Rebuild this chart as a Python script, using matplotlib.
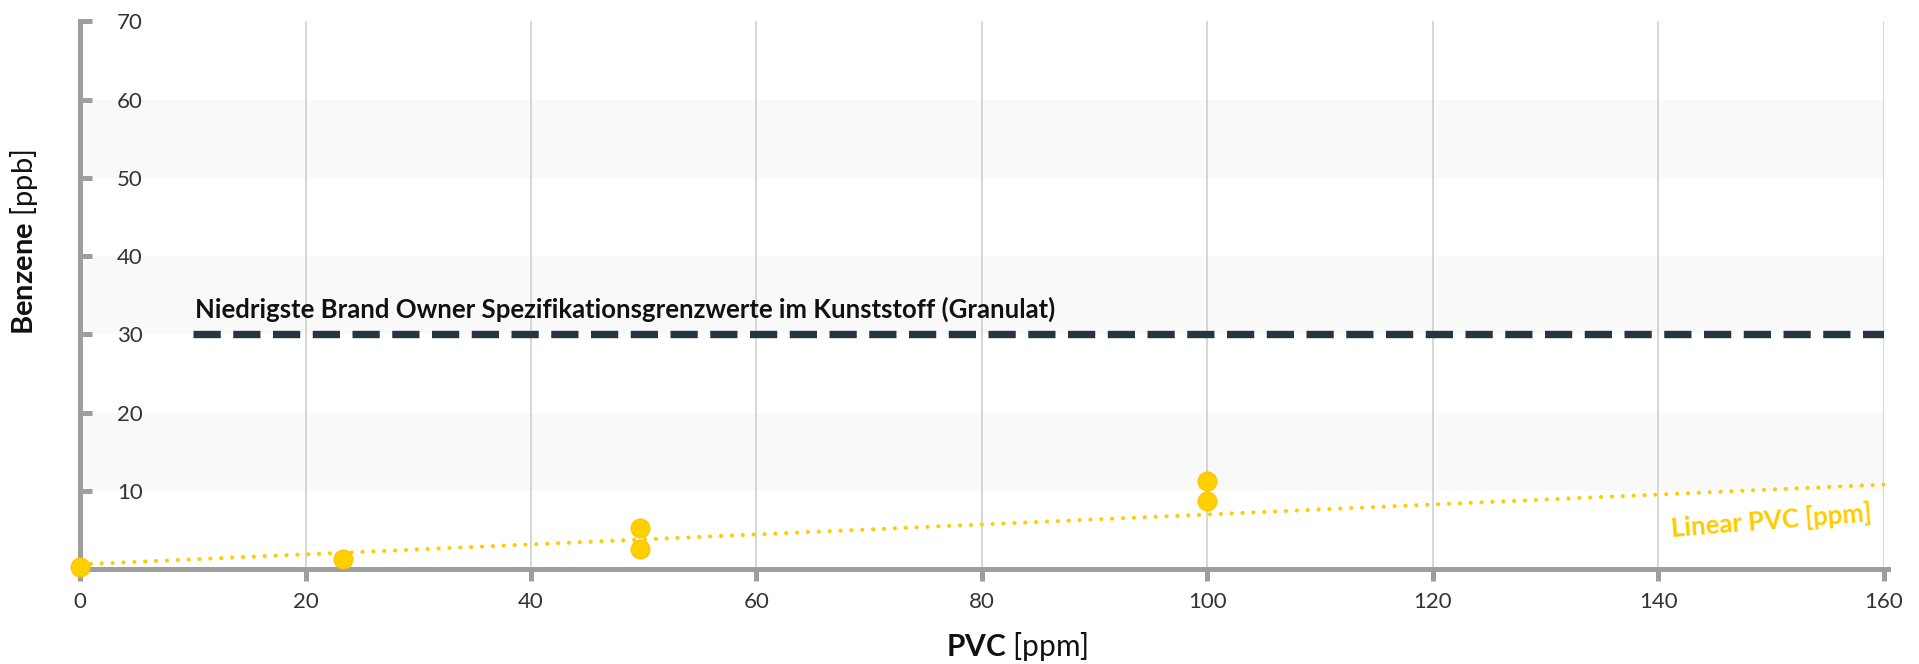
import matplotlib
matplotlib.use('Agg')
import matplotlib.pyplot as plt

plt.rcParams['font.family'] = ['Lato', 'DejaVu Sans']
plt.rcParams['mathtext.fontset'] = 'custom'
plt.rcParams['mathtext.rm'] = 'Lato'
plt.rcParams['mathtext.bf'] = 'Lato:bold'

# data
pvc_ppm = [0, 23.3, 49.7, 49.7, 100, 100]
benzene_ppb = [0.3, 1.3, 5.3, 2.5, 11.2, 8.7]

trend_x = [0, 160]
trend_y = [0.6, 10.8]

limit_x = [10, 160]
limit_y = [30, 30]
limit_label = 'Niedrigste Brand Owner Spezifikationsgrenzwerte im Kunststoff (Granulat)'
trend_label = 'Linear PVC [ppm]'

x_ticks = [0, 20, 40, 60, 80, 100, 120, 140, 160]
y_ticks = [10, 20, 30, 40, 50, 60, 70]
bands = [(10, 20), (30, 40), (50, 60)]

axis_grey = '#9e9e9e'
yellow = '#ffcc00'
navy = '#263640'

fig = plt.figure(figsize=(19.19, 6.64), dpi=100)
ax = fig.add_axes([0.0417, 0.143, 0.94, 0.825])

ax.set_xlim(0, 160)
ax.set_ylim(0, 70)

for lo, hi in bands:
    ax.axhspan(lo, hi, color='#f9f9f9', zorder=0, lw=0)
for xv in x_ticks[1:]:
    ax.axvline(xv, color='#cfcfcf', lw=1.2, zorder=1)

ax.plot(limit_x, limit_y, color=navy, lw=5.3, dashes=(3.7, 1.7),
        dash_capstyle='butt', zorder=3)
ax.text(10.2, 31.6, limit_label, fontsize=18.5, fontweight='bold',
        color='#111111', ha='left', va='bottom', zorder=4)

ax.plot(trend_x, trend_y, color=yellow, lw=3, linestyle=(0, (0.01, 2.6)),
        dash_capstyle='round', zorder=3, clip_on=False)
ax.text(159.0, 5.6, trend_label, fontsize=18.5, fontweight='bold', color=yellow,
        ha='right', va='bottom', rotation=4.5, rotation_mode='anchor', zorder=4)

ax.scatter(pvc_ppm, benzene_ppb, s=180, color='#ffd000', edgecolor='#ffc400',
           linewidth=1, zorder=5, clip_on=False)

for side in ['top', 'right']:
    ax.spines[side].set_visible(False)
for side in ['left', 'bottom']:
    ax.spines[side].set_color(axis_grey)
    ax.spines[side].set_linewidth(3.6)
ax.spines['bottom'].set_bounds(0, 160.4)

ax.set_xticks(x_ticks)
ax.set_yticks(y_ticks)
ax.tick_params(axis='x', direction='out', length=8.5, width=3.6, color=axis_grey,
               labelsize=16, labelcolor='#333333', pad=8)
ax.tick_params(axis='y', direction='in', length=8.5, width=3.6, color=axis_grey,
               labelsize=16, labelcolor='#333333', pad=-45)

fig.text(0.530, 0.012, r'$\bf{PVC}$ [ppm]', fontsize=21.5, ha='center', va='baseline',
         color='#111111')
fig.text(0.004, 0.635, r'$\bf{Benzene}$ [ppb]', fontsize=21, rotation=90,
         ha='left', va='center', color='#111111')

fig.savefig('out.png', dpi=100)
